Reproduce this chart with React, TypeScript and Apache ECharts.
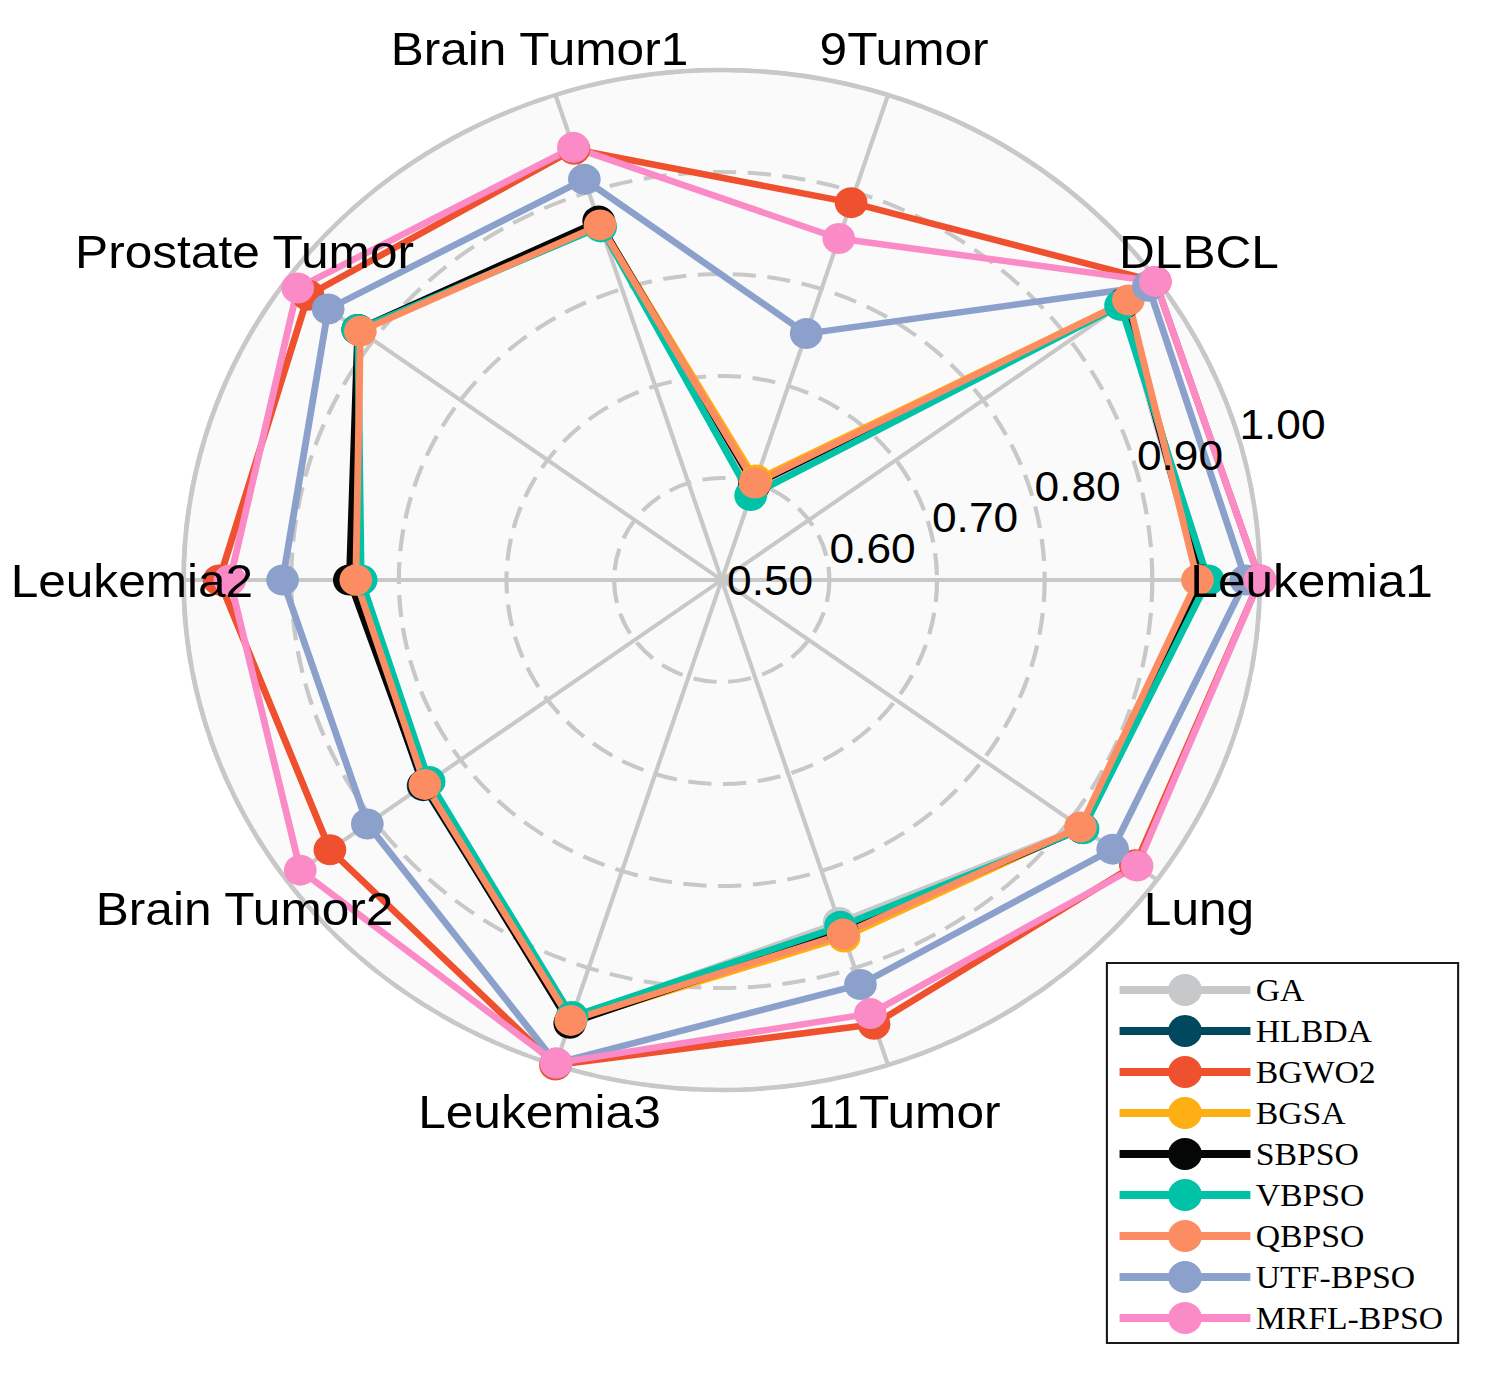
import React, { useEffect, useRef } from "react";
import * as echarts from "echarts";

const datasets = ["Leukemia1", "DLBCL", "9Tumor", "Brain Tumor1", "Prostate Tumor", "Leukemia2", "Brain Tumor2", "Leukemia3", "11Tumor", "Lung"];
const methods = ["GA", "HLBDA", "BGWO2", "BGSA", "SBPSO", "VBPSO", "QBPSO", "UTF-BPSO", "MRFL-BPSO"];
const colors = ["#C7C8CA", "#00485E", "#EF502D", "#FDAF13", "#050707", "#00C2A6", "#FC8D62", "#8BA1CB", "#FB8BC7"];

const gaValues = [0.945, 0.960, 0.590, 0.865, 0.916, 0.838, 0.838, 0.952, 0.853, 0.913];
const hlbdaValues = [0.948, 0.962, 0.601, 0.868, 0.917, 0.843, 0.843, 0.955, 0.864, 0.914];
const bgwo2Values = [1.0, 0.998, 0.889, 0.944, 0.975, 0.967, 0.950, 1.0, 0.958, 0.975];
const bgsaValues = [0.945, 0.965, 0.603, 0.867, 0.916, 0.842, 0.840, 0.955, 0.868, 0.913];
const sbpsoValues = [0.945, 0.962, 0.598, 0.870, 0.918, 0.846, 0.842, 0.957, 0.862, 0.914];
const vbpsoValues = [0.952, 0.958, 0.587, 0.864, 0.918, 0.835, 0.836, 0.950, 0.857, 0.915];
const qbpsoValues = [0.942, 0.967, 0.600, 0.866, 0.915, 0.840, 0.841, 0.954, 0.865, 0.912];
const utfValues = [0.987, 0.990, 0.754, 0.913, 0.952, 0.908, 0.907, 0.998, 0.917, 0.949];
const mrflValues = [1.0, 0.998, 0.852, 0.946, 0.987, 0.957, 0.984, 0.998, 0.947, 0.977];

const seriesValues = [gaValues, hlbdaValues, bgwo2Values, bgsaValues, sbpsoValues, vbpsoValues, qbpsoValues, utfValues, mrflValues];

const tickLabels = ["0.50", "0.60", "0.70", "0.80", "0.90", "1.00"];
const axisMin = 0.5;
const axisMax = 1.0;

const CENTER: [number, number] = [684, 580];
const RADIUS = 510;
const GRID = "#C8C8C8";

const legendIcon =
  "path://M0,12L50,12L50,20L0,20Z M74,12L124,12L124,20L74,20Z M46,16A16,16,0,1,1,78,16A16,16,0,1,1,46,16Z";

function buildOption() {
  const baseIndicators = datasets.map((d) => ({ name: d, min: axisMin, max: axisMax }));
  const blankIndicators = datasets.map(() => ({ name: "", min: axisMin, max: axisMax }));
  const labelIndicators = datasets.map((d, i) =>
    i === 0
      ? {
          name: "",
          min: axisMin,
          max: axisMax,
          axisLabel: {
            show: true,
            color: "#000",
            fontSize: 42,
            fontFamily: "Liberation Sans",
            align: "left",
            verticalAlign: "middle",
            margin: 0,
            padding: [0, 0, 0, 5],
            showMinLabel: true,
            showMaxLabel: true,
            formatter: (_v: number, idx: number) => tickLabels[idx] ?? "",
          },
        }
      : { name: "", min: axisMin, max: axisMax }
  );

  const hidden = {
    axisLine: { show: false },
    axisTick: { show: false },
    axisLabel: { show: false },
    splitLine: { show: false },
    splitArea: { show: false },
  };

  return {
    animation: false,
    backgroundColor: "#ffffff",
    color: colors,
    legend: {
      orient: "vertical",
      left: 1049,
      top: 963,
      itemWidth: 124,
      itemHeight: 32,
      itemGap: 9,
      padding: [11, 14, 9, 12],
      borderColor: "#1a1a1a",
      borderWidth: 2,
      selectedMode: false,
      icon: legendIcon,
      itemStyle: { borderWidth: 0 },
      textStyle: { fontFamily: "Liberation Serif", fontSize: 32, color: "#000" },
      data: methods,
      z: 10,
    },
    radar: [
      {
        center: CENTER,
        radius: RADIUS,
        startAngle: 0,
        shape: "circle",
        splitNumber: 1,
        indicator: blankIndicators,
        axisName: { show: false },
        axisLine: { show: false },
        axisTick: { show: false },
        axisLabel: { show: false },
        splitLine: { show: true, lineStyle: { color: GRID, width: 4.5, type: "solid" } },
        splitArea: { show: true, areaStyle: { color: ["#FAFAFA"] } },
      },
      {
        center: CENTER,
        radius: RADIUS,
        startAngle: 0,
        shape: "circle",
        splitNumber: 5,
        indicator: blankIndicators,
        axisName: { show: false },
        axisLine: { show: true, lineStyle: { color: GRID, width: 4 } },
        axisTick: { show: false },
        axisLabel: { show: false },
        splitLine: { show: true, lineStyle: { color: GRID, width: 4, type: [22, 11] } },
        splitArea: { show: false },
      },
      {
        center: CENTER,
        radius: RADIUS,
        startAngle: 17.8,
        shape: "circle",
        splitNumber: 5,
        indicator: labelIndicators,
        axisName: { show: false },
        ...hidden,
        z: 5,
      },
      {
        center: CENTER,
        radius: RADIUS,
        startAngle: 0,
        shape: "circle",
        splitNumber: 5,
        indicator: baseIndicators,
        nameGap: 49,
        axisName: {
          show: true,
          color: "#000",
          fontSize: 47,
          fontFamily: "Liberation Sans",
          align: "center",
          verticalAlign: "middle",
        },
        ...hidden,
        z: 6,
      },
    ],
    series: methods.map((m, i) => ({
      type: "radar",
      name: m,
      radarIndex: 1,
      symbol: "circle",
      symbolSize: 31,
      lineStyle: { width: 6.5, color: colors[i] },
      itemStyle: { color: colors[i], borderWidth: 0 },
      emphasis: { disabled: true },
      data: [{ name: m, value: seriesValues[i] }],
    })),
  };
}

export default function App() {
  const ref = useRef<HTMLDivElement>(null);
  useEffect(() => {
    if (!ref.current) return;
    const chart = echarts.init(ref.current, null, { renderer: "svg" });
    chart.setOption(buildOption() as any);
    return () => chart.dispose();
  }, []);
  return (
    <div
      ref={ref}
      style={{
        position: "absolute",
        left: 0,
        top: 0,
        width: 1412,
        height: 1381,
        transform: "scaleX(1.0552)",
        transformOrigin: "0 0",
      }}
    />
  );
}
